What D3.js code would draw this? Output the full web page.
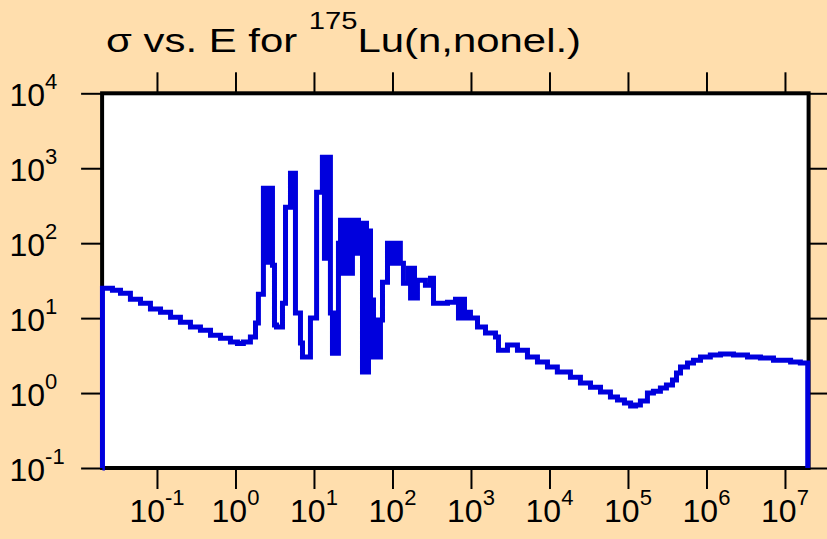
<!DOCTYPE html>
<html>
<head>
<meta charset="utf-8">
<script src="https://cdn.jsdelivr.net/npm/d3@7"></script>
<style>
    html, body { margin: 0; padding: 0; background: #ffdead; }
    svg { display: block; font-family: "Liberation Sans", Arial, sans-serif; }
</style>
</head>
<body>
<div id="chart"></div>
<script>
// incident energy (eV) and cross section (b), step data
const energy = [
    0.0202, 0.02021, 0.0271, 0.0343, 0.0459, 0.0617, 0.0826, 0.111, 0.149, 0.199,
    0.267, 0.358, 0.481, 0.644, 0.863, 1.06, 1.26, 1.55, 1.8, 1.96,
    2.27, 2.48, 2.56, 2.71, 2.79, 2.96, 3.14, 3.33, 3.97, 4.34,
    5.02, 5.81, 6.73, 7.14, 9.02, 10.8, 12.8, 13.6, 14.0, 14.9,
    15.3, 16.2, 17.2, 18.2, 19.4, 20.5, 21.8, 23.1, 24.5, 25.9,
    27.5, 29.2, 30.9, 32.8, 34.8, 36.9, 39.1, 41.5, 44.0, 46.7,
    49.5, 52.5, 57.3, 62.5, 66.3, 70.3, 74.6, 86.4, 94.3, 100,
    109, 116, 126, 138, 160, 170, 180, 191, 208, 263,
    305, 333, 502, 635, 693, 757, 827, 902, 985, 1211,
    1531, 2053, 2241, 2917, 3911, 5243, 7031, 9430, 1.26e4, 1.85e4,
    2.48e4, 3.33e4, 4.47e4, 5.98e4, 7.35e4, 9.02e4, 1.08e5, 1.25e5, 1.44e5, 1.77e5,
    2.11e5, 2.59e5, 3.09e5, 3.69e5, 4.15e5, 4.67e5, 5.73e5, 6.83e5, 8.39e5, 1.12e6,
    1.51e6, 2.21e6, 3.33e6, 4.87e6, 7.14e6, 1.18e7, 1.57e7, 1.95e7
];
const sigma = [
    0.001, 25.1, 23.6, 21.5, 17.9, 15.8, 13.2, 12.0, 10.3, 8.8,
    7.6, 6.9, 5.9, 5.4, 4.8, 4.6, 4.8, 5.6, 8.6, 20.9,
    541, 55.8, 541, 55.8, 541, 50.9, 8.07, 7.59, 15.8, 302,
    858, 11.7, 4.64, 3.02, 10.0, 479, 1402, 63.1, 1402, 63.1,
    1402, 11.7, 3.41, 11.7, 3.41, 100, 203, 39.8, 203, 39.8,
    203, 39.8, 203, 73.6, 203, 73.6, 185, 1.91, 185, 1.91,
    145, 17.4, 3.02, 9.41, 3.02, 9.41, 30.2, 100, 54.1, 100,
    54.1, 100, 54.1, 29.3, 46.4, 18.5, 46.4, 18.5, 32.1, 27.5,
    34.1, 15.8, 16.3, 17.9, 10.0, 17.9, 10.0, 12.0, 10.0, 7.59,
    6.31, 5.58, 3.74, 4.37, 3.74, 3.02, 2.59, 2.22, 1.91, 1.63,
    1.36, 1.20, 1.03, 0.884, 0.807, 0.736, 0.671, 0.692, 0.782, 1.0,
    1.06, 1.17, 1.28, 1.49, 1.85, 2.22, 2.51, 2.75, 3.02, 3.21,
    3.31, 3.21, 3.02, 2.93, 2.75, 2.59, 2.51, 0.001
];
const xExponents = [-1, 0, 1, 2, 3, 4, 5, 6, 7];
const yExponents = [-1, 0, 1, 2, 3, 4];
const xDomain = [0.02, 2e7];
const yDomain = [0.1, 1e4];

const width = 827, height = 539;
const plot = { left: 102.1, right: 808.6, top: 93.3, bottom: 468 };

const svg = d3.select("#chart")
    .append("svg")
    .attr("width", width)
    .attr("height", height);

svg.append("rect")
    .attr("width", width)
    .attr("height", height)
    .attr("fill", "#ffdead");

const x = d3.scaleLog().domain(xDomain).range([plot.left, plot.right]);
const y = d3.scaleLog().domain(yDomain).range([plot.bottom, plot.top]).clamp(true);

// plot area
svg.append("rect")
    .attr("x", plot.left)
    .attr("y", plot.top)
    .attr("width", plot.right - plot.left)
    .attr("height", plot.bottom - plot.top)
    .attr("fill", "white");

// ticks outside the frame on all four sides
const tickLen = 21;
const xTicks = xExponents.map((e) => Math.pow(10, e));
const yTicks = yExponents.map((e) => Math.pow(10, e));

svg.append("g")
    .attr("transform", `translate(0, ${plot.bottom})`)
    .call(d3.axisBottom(x).tickValues(xTicks).tickSize(tickLen).tickFormat(""))
    .call((g) => g.select(".domain").remove());
svg.append("g")
    .attr("transform", `translate(0, ${plot.top})`)
    .call(d3.axisTop(x).tickValues(xTicks).tickSize(tickLen).tickFormat(""))
    .call((g) => g.select(".domain").remove());
svg.append("g")
    .attr("transform", `translate(${plot.left}, 0)`)
    .call(d3.axisLeft(y).tickValues(yTicks).tickSize(tickLen).tickFormat(""))
    .call((g) => g.select(".domain").remove());
svg.append("g")
    .attr("transform", `translate(${plot.right}, 0)`)
    .call(d3.axisRight(y).tickValues(yTicks).tickSize(tickLen).tickFormat(""))
    .call((g) => g.select(".domain").remove());

svg.selectAll(".tick line")
    .attr("stroke", "black")
    .attr("stroke-width", 2);

// frame
svg.append("rect")
    .attr("x", plot.left)
    .attr("y", plot.top)
    .attr("width", plot.right - plot.left)
    .attr("height", plot.bottom - plot.top)
    .attr("fill", "none")
    .attr("stroke", "black")
    .attr("stroke-width", 4);

// tick labels
const xLabels = svg.selectAll(".xlabel")
    .data(xExponents)
    .join("text")
    .attr("class", "xlabel")
    .attr("x", (d) => x(Math.pow(10, d)))
    .attr("y", 522)
    .attr("text-anchor", "middle")
    .style("font-size", "32px")
    .attr("fill", "black");
xLabels.append("tspan").text("10");
xLabels.append("tspan")
    .attr("dy", -17)
    .style("font-size", "22px")
    .text((d) => d);

const yLabels = svg.selectAll(".ylabel")
    .data(yExponents)
    .join("text")
    .attr("class", "ylabel")
    .attr("x", 9.5)
    .attr("y", (d) => y(Math.pow(10, d)) + 12.5)
    .style("font-size", "32px")
    .attr("fill", "black");
yLabels.append("tspan").text("10");
yLabels.append("tspan")
    .attr("dy", -17)
    .style("font-size", "22px")
    .text((d) => d);

// title (the original face is wider than Liberation Sans, so stretch it)
const title = svg.append("text")
    .attr("transform", "translate(106, 52) scale(1.27, 1)")
    .style("font-size", "33px")
    .attr("fill", "black");
title.append("tspan").text("σ vs. E for ");
title.append("tspan").attr("dy", -23).style("font-size", "23px").text("175");
title.append("tspan").attr("dy", 23).text("Lu(n,nonel.)");

// cross section curve
const points = energy.map((e, i) => [e, sigma[i]]);
const line = d3.line()
    .x((d) => x(d[0]))
    .y((d) => y(d[1]))
    .curve(d3.curveStepAfter);

svg.append("path")
    .datum(points)
    .attr("d", line)
    .attr("fill", "none")
    .attr("stroke", "#0000dd")
    .attr("stroke-width", 5)
    .attr("stroke-linejoin", "miter");
</script>
</body>
</html>
